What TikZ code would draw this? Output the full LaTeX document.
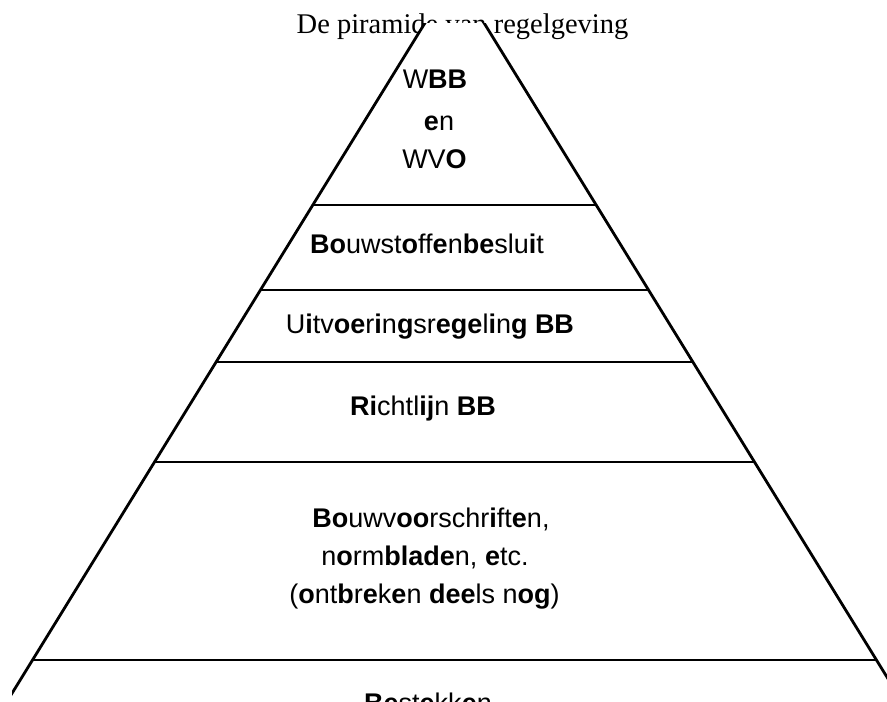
\documentclass[tikz,border=0pt]{standalone}
\usepackage{fontspec}
\setmainfont{Liberation Serif}
\newfontfamily\labelfont{Liberation Sans}
% heavy glyphs inside the level labels
\newcommand\bld[1]{\textbf{#1}}
\begin{document}
\begin{tikzpicture}[x=1pt,y=-1pt,
  title/.style={font=\fontsize{28.5}{32}\selectfont, anchor=base, inner sep=0pt},
  level/.style={font=\labelfont\fontsize{27}{31}\selectfont, anchor=base, inner sep=0pt},
  edge/.style={line width=2.8pt, line cap=round}]
  \useasboundingbox (0,0) rectangle (887,702);
  \clip (0,0) rectangle (887,702);

  % title above the pyramid
  \node[title] (title) at (462.5,33) {De piramide van regelgeving};

  % pyramid outline: apex and two far base corners
  \coordinate (A)  at (454.5,-25);
  \coordinate (BL) at (-53.7,800);
  \coordinate (BR) at (962.7,800);

  \begin{scope}
    \clip (12,23) rectangle (900,710);
    \fill[white] (A) -- (BL) -- (BR) -- cycle;
    \draw[edge] (BL) -- (A) -- (BR);
    % level separators
    \foreach \y/\n in {205/a, 290/b, 362/c, 462/d, 660/e} {
      \coordinate (L\n) at (intersection of A--BL and 0,\y--1,\y);
      \coordinate (R\n) at (intersection of A--BR and 0,\y--1,\y);
      \draw[edge, line cap=butt] (L\n) -- (R\n);
    }
  \end{scope}

  % level labels
  \node[level] (wbb)   at (435,88)    {W\bld{BB}};
  \node[level] (en)    at (439,130)   {\bld{e}n};
  \node[level] (wvo)   at (434.5,168) {WV\bld{O}};
  \node[level] (bsb)   at (427,253)   {\bld{Bo}uwst\bld{o}ff\bld{e}n\bld{be}slu\bld{i}t};
  \node[level] (uit)   at (430,333)   {U\bld{i}tv\bld{oe}r\bld{i}n\bld{g}sr\bld{ege}l\bld{i}n\bld{g} \bld{BB}};
  \node[level] (richt) at (423,415)   {\bld{Ri}chtl\bld{ij}n \bld{BB}};
  \node[level] (bvs1)  at (431,527)   {\bld{Bo}uwv\bld{oo}rschr\bld{i}ft\bld{e}n,};
  \node[level] (bvs2)  at (425,565)   {n\bld{o}rm\bld{blade}n, \bld{e}tc.};
  \node[level] (bvs3)  at (424.5,603) {(\bld{o}nt\bld{b}r\bld{e}k\bld{e}n \bld{dee}ls n\bld{og})};
  \node[level] (best)  at (428,712)   {\bld{Be}st\bld{e}kk\bld{e}n};
\end{tikzpicture}
\end{document}
